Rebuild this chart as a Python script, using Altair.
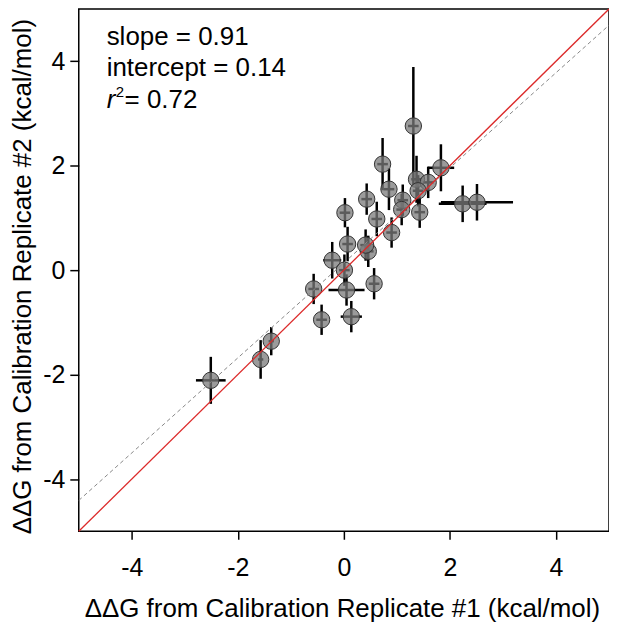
import altair as alt
import pandas as pd

# data
rep1 = [-2.51, -1.57, -1.37, -0.57, -0.42, 0.05, 0.14, 0.57, -0.22, 0.01,
        0.46, 0.41, 0.07, 0.02, 0.43, 0.62, 0.90, 0.73, 1.31, 0.85,
        1.37, 1.59, 1.40, 1.11, 1.09, 1.43, 1.83, 2.24, 2.51]
rep2 = [-2.11, -1.71, -1.36, -0.36, -0.95, -0.38, -0.89, -0.26, 0.19, 0.00,
        0.36, 0.48, 0.50, 1.10, 1.36, 0.98, 0.72, 2.03, 2.76, 1.55,
        1.74, 1.68, 1.52, 1.34, 1.16, 1.11, 1.96, 1.27, 1.30]
err1 = [0.28, 0.05, 0.05, 0.10, 0.10, 0.34, 0.20, 0.10, 0.17, 0.10,
        0.10, 0.10, 0.10, 0.10, 0.10, 0.10, 0.10, 0.10, 0.10, 0.10,
        0.10, 0.10, 0.10, 0.10, 0.10, 0.10, 0.25, 0.45, 0.68]
err2 = [0.45, 0.37, 0.27, 0.29, 0.29, 0.30, 0.30, 0.30, 0.35, 0.30,
        0.30, 0.30, 0.33, 0.28, 0.30, 0.33, 0.29, 0.50, 1.13, 0.40,
        0.45, 0.30, 0.30, 0.30, 0.30, 0.30, 0.45, 0.35, 0.35]
domain = [-5, 5]
ticks = [-4, -2, 0, 2, 4]
slope = 0.91
intercept = 0.14
r2 = 0.72

df = pd.DataFrame({"x": rep1, "y": rep2, "ex": err1, "ey": err2})
df["x1"] = df.x - df.ex
df["x2"] = df.x + df.ex
df["y1"] = df.y - df.ey
df["y2"] = df.y + df.ey

ident = pd.DataFrame({"x": domain, "y": domain})
fit = pd.DataFrame({"x": domain, "y": [slope * v + intercept for v in domain]})

FONT = "Liberation Sans"
LBL = "datum.value < 0 ? '-' + abs(datum.value) : '' + datum.value"
xs = alt.Scale(domain=domain, nice=False, zero=False)
ys = alt.Scale(domain=domain, nice=False, zero=False)
common = dict(grid=False, domain=False, tickWidth=1.5, tickColor="black",
              labelFontSize=25, titleFontSize=26, labelFont=FONT, titleFont=FONT,
              labelColor="black", titleColor="black", titleFontWeight="normal",
              labelExpr=LBL)
xax = alt.Axis(values=ticks, title="ΔΔG from Calibration Replicate #1 (kcal/mol)",
               tickSize=8, labelPadding=16, titlePadding=16, titleX=264, **common)
yax = alt.Axis(values=ticks, title="ΔΔG from Calibration Replicate #2 (kcal/mol)",
               tickSize=9, labelPadding=5, titlePadding=7, titleY=268, **common)

base = alt.Chart(df)
hbar = base.mark_rule(color="black", strokeWidth=2.5).encode(
    x=alt.X("x1:Q", scale=xs, axis=xax), x2="x2:Q", y=alt.Y("y:Q", scale=ys, axis=yax))
vbar = base.mark_rule(color="black", strokeWidth=2.5).encode(
    x=alt.X("x:Q", scale=xs), y=alt.Y("y1:Q", scale=ys), y2="y2:Q")
pts = base.mark_circle(size=270, fill="#7a7a7a", fillOpacity=0.75, stroke="#333333",
                       strokeWidth=1, opacity=1).encode(
    x=alt.X("x:Q", scale=xs), y=alt.Y("y:Q", scale=ys))
red = alt.Chart(ident).mark_line(color="#dc2a2a", strokeWidth=1.3).encode(
    x=alt.X("x:Q", scale=xs), y=alt.Y("y:Q", scale=ys))
dash = alt.Chart(fit).mark_line(color="#888888", strokeWidth=1, strokeDash=[4, 3]).encode(
    x=alt.X("x:Q", scale=xs), y=alt.Y("y:Q", scale=ys))

def txt(s, x, y, size=26, style="normal"):
    return alt.Chart(pd.DataFrame({"t": [s]})).mark_text(
        align="left", baseline="middle", font=FONT, fontSize=size, fontStyle=style,
        color="black").encode(text="t:N", x=alt.value(x), y=alt.value(y))

t1 = txt(f"slope = {slope:.2f}", 28, 28)
t2 = txt(f"intercept = {intercept:.2f}", 28, 59)
t3a = txt("r", 28, 91, style="italic")
t3b = txt("2", 37, 83, size=15)
t3c = txt(f"= {r2:.2f}", 46, 91)

chart = alt.layer(hbar, vbar, pts, dash, red, t1, t2, t3a, t3b, t3c).properties(
    width=532, height=524,
    background="white",
    autosize=alt.AutoSizeParams(type="none"),
    padding={"left": 71, "top": 0, "right": 0, "bottom": 90},
).configure_view(stroke="black", strokeWidth=1.5)

chart.save("out.html", embed_options={"renderer": "svg", "actions": False})
